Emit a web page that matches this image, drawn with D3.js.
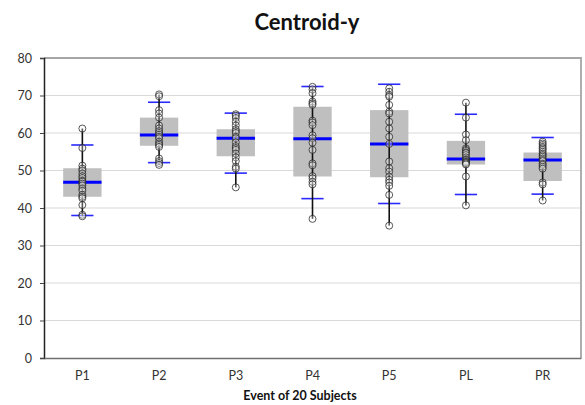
<!DOCTYPE html>
<html>
<head>
<meta charset="utf-8">
<script src="https://cdn.jsdelivr.net/npm/d3@7"></script>
<style>
  body { margin: 0; background: #fff; }
  text { font-family: Lato, "Open Sans", sans-serif; }
</style>
</head>
<body>
<svg id="chart"></svg>
<script>
var _W = 585,
  _H = 405,
  _LEFT = 44,
  _RIGHT = 581,
  _TOP = 58,
  _BOTTOM = 358;

// chart data
var categories = ["P1", "P2", "P3", "P4", "P5", "PL", "PR"];
var q1 = [43.0, 56.6, 53.8, 48.4, 48.2, 51.6, 47.2];
var median = [46.9, 59.5, 58.6, 58.5, 57.1, 53.1, 52.8];
var q3 = [50.6, 64.1, 61.0, 67.0, 66.1, 57.9, 54.8];
var capLow = [38.0, 52.1, 49.3, 42.5, 41.2, 43.6, 43.7];
var capHigh = [56.8, 68.2, 65.3, 72.4, 73.0, 65.0, 58.8];

var pointsP1 = [61.2, 56.0, 51.3, 50.5, 50.0, 49.2, 48.5, 48.0, 47.3, 47.0, 46.5, 46.0, 45.2, 44.6, 43.5, 43.0, 42.6, 40.8, 38.2, 37.8];
var pointsP2 = [70.3, 69.8, 66.1, 65.2, 64.1, 62.0, 61.2, 60.5, 60.0, 59.5, 59.0, 58.6, 57.7, 57.2, 56.8, 56.3, 53.2, 52.5, 52.0, 51.5];
var pointsP3 = [65.0, 64.6, 64.0, 63.0, 62.0, 61.0, 60.5, 60.0, 59.0, 58.6, 57.5, 56.5, 56.0, 55.5, 54.5, 53.5, 52.5, 51.0, 50.5, 45.5];
var pointsP4 = [72.3, 71.6, 70.6, 68.4, 67.9, 67.5, 63.3, 62.8, 62.1, 59.4, 58.6, 57.4, 55.5, 51.9, 51.4, 48.5, 47.9, 47.0, 46.3, 37.1];
var pointsP5 = [71.9, 71.0, 70.1, 69.7, 67.5, 65.7, 65.2, 63.0, 61.2, 59.0, 57.1, 52.4, 50.6, 49.7, 48.4, 47.5, 46.8, 45.9, 43.5, 35.3];
var pointsPL = [68.1, 64.1, 59.6, 58.1, 55.9, 55.5, 55.2, 54.8, 54.6, 54.1, 53.5, 53.0, 52.8, 52.5, 52.3, 52.1, 51.9, 51.6, 48.4, 40.7];
var pointsPR = [57.7, 57.2, 56.8, 56.3, 55.9, 55.5, 55.0, 54.5, 54.1, 53.7, 53.2, 52.8, 52.5, 51.8, 51.5, 51.0, 50.5, 46.8, 46.3, 42.0];
var points = [pointsP1, pointsP2, pointsP3, pointsP4, pointsP5, pointsPL, pointsPR];

var yTicks = [0, 10, 20, 30, 40, 50, 60, 70, 80];

var boxes = categories.map(function(c, i) {
  return {
    cat: c, q1: q1[i], med: median[i], q3: q3[i],
    lo: capLow[i], hi: capHigh[i], pts: points[i],
    min: d3.min(points[i]), max: d3.max(points[i])
  };
});

var svg = d3.select('#chart')
  .attr('width', _W)
  .attr('height', _H);

var x = d3.scaleBand()
  .domain(categories)
  .range([_LEFT, _RIGHT])
  .padding(0);

var y = d3.scaleLinear()
  .domain([0, 80])
  .range([_BOTTOM, _TOP]);

var bw = x.bandwidth(),
  boxW = bw * 0.5,
  capW = bw * 0.29;

// gridlines
svg.append('g')
  .selectAll('line')
  .data(yTicks.slice(1, -1))
  .enter()
  .append('line')
  .attr('x1', _LEFT)
  .attr('x2', _RIGHT)
  .attr('y1', function(d) { return y(d); })
  .attr('y2', function(d) { return y(d); })
  .style('stroke', '#d9d9d9')
  .style('stroke-width', 1.2);

// frame top / right
svg.append('path')
  .attr('d', 'M' + _LEFT + ',' + _TOP + 'H' + _RIGHT + 'V' + _BOTTOM)
  .style('fill', 'none')
  .style('stroke', '#a6a6a6')
  .style('stroke-width', 1.8);

// y axis
var yAxis = svg.append('g')
  .attr('transform', 'translate(' + _LEFT + ',0)')
  .call(d3.axisLeft(y).tickValues(yTicks).tickSize(4).tickPadding(8));
yAxis.select('.domain').style('stroke', '#222').style('stroke-width', 1.5);
yAxis.selectAll('.tick line').style('stroke', '#444');
yAxis.selectAll('.tick text')
  .style('font-size', '12.5px')
  .style('fill', '#333');

// x axis
var xAxis = svg.append('g')
  .attr('transform', 'translate(0,' + _BOTTOM + ')')
  .call(d3.axisBottom(x).tickSize(0).tickPadding(13).tickSizeOuter(0));
xAxis.select('.domain').style('stroke', '#707070').style('stroke-width', 1.6);
xAxis.selectAll('.tick text')
  .style('font-size', '12.5px')
  .style('fill', '#333');

// boxes
var g = svg.append('g')
  .selectAll('g')
  .data(boxes)
  .enter()
  .append('g')
  .attr('transform', function(d) { return 'translate(' + (x(d.cat) + bw / 2) + ',0)'; });

g.append('rect')
  .attr('x', -boxW / 2)
  .attr('width', boxW)
  .attr('y', function(d) { return y(d.q3); })
  .attr('height', function(d) { return y(d.q1) - y(d.q3); })
  .style('fill', '#bfbfbf');

g.append('line')
  .attr('x1', -boxW / 2)
  .attr('x2', boxW / 2)
  .attr('y1', function(d) { return y(d.med); })
  .attr('y2', function(d) { return y(d.med); })
  .style('stroke', '#0000ff')
  .style('stroke-width', 3);

g.selectAll('line.cap')
  .data(function(d) { return [d.lo, d.hi]; })
  .enter()
  .append('line')
  .attr('class', 'cap')
  .attr('x1', -capW / 2)
  .attr('x2', capW / 2)
  .attr('y1', function(d) { return y(d); })
  .attr('y2', function(d) { return y(d); })
  .style('stroke', '#2a2aff')
  .style('stroke-width', 1.6);

g.append('line')
  .attr('x1', 0)
  .attr('x2', 0)
  .attr('y1', function(d) { return y(d.max); })
  .attr('y2', function(d) { return y(d.min); })
  .style('stroke', '#111')
  .style('stroke-width', 1.6);

g.selectAll('circle')
  .data(function(d) { return d.pts; })
  .enter()
  .append('circle')
  .attr('cx', 0)
  .attr('cy', function(d) { return y(d); })
  .attr('r', 3.5)
  .style('fill', '#fff')
  .style('fill-opacity', 0.3)
  .style('stroke', '#222')
  .style('stroke-opacity', 0.75)
  .style('stroke-width', 1);

// titles
svg.append('text')
  .attr('x', 307)
  .attr('y', 30)
  .attr('text-anchor', 'middle')
  .style('font-size', '22px')
  .style('font-weight', 'bold')
  .style('fill', '#111')
  .text('Centroid-y');

svg.append('text')
  .attr('x', 300)
  .attr('y', 400)
  .attr('text-anchor', 'middle')
  .style('font-size', '12.5px')
  .style('font-weight', 'bold')
  .style('fill', '#111')
  .text('Event of 20 Subjects');
</script>
</body>
</html>
